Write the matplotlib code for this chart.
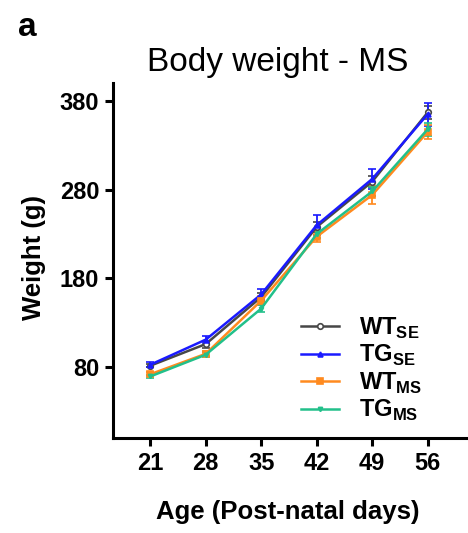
import matplotlib.pyplot as plt
from matplotlib.lines import Line2D

plt.rcParams["font.family"] = ["Liberation Sans", "DejaVu Sans"]
plt.rcParams["mathtext.fontset"] = "custom"
plt.rcParams["mathtext.rm"] = "Liberation Sans:bold"
plt.rcParams["mathtext.bf"] = "Liberation Sans:bold"

days = [21, 28, 35, 42, 49, 56]
wt_se = [81.6, 106, 159, 238, 289, 367]
tg_se = [82.7, 111, 162, 240, 292, 365]
wt_ms = [72, 95, 155, 227, 274, 345]
tg_ms = [69.5, 94, 146, 230, 278, 348]
wt_se_err = [2, 4, 5, 6, 6, 7]
tg_se_err = [3, 4, 6, 11, 11, 13]
wt_ms_err = [2, 3, 5, 6, 10, 8]
tg_ms_err = [2, 3, 4, 5, 5, 7]
labels = [r"WT$_{\mathrm{SE}}$", r"TG$_{\mathrm{SE}}$",
          r"WT$_{\mathrm{MS}}$", r"TG$_{\mathrm{MS}}$"]

fig = plt.figure(figsize=(4.68, 5.33), dpi=100)
ax = fig.add_axes([0.2415, 0.178, 0.757, 0.666])

series = [
    (wt_se, wt_se_err, "#474747", "o", "white", 4),
    (tg_se, tg_se_err, "#1a1aff", "^", "#1a1aff", 3.5),
    (wt_ms, wt_ms_err, "#ff8a1f", "s", "#ff8a1f", 4.5),
    (tg_ms, tg_ms_err, "#22c08a", "v", "#22c08a", 3),
]
handles = []
for (vals, err, col, mk, mfc, ms), lab in zip(series, labels):
    style = dict(color=col, marker=mk, markersize=ms, markerfacecolor=mfc,
                 markeredgecolor=col, markeredgewidth=1.2, linewidth=1.8)
    ax.errorbar(days, vals, yerr=err, elinewidth=1.3, capsize=3,
                capthick=1.3, **style)
    handles.append(Line2D([], [], label=lab, **style))

ax.set_xlim(16.3, 61)
ax.set_ylim(0, 400)
ax.set_xticks(days)
ax.set_yticks([80, 180, 280, 380])
for s in ["top", "right"]:
    ax.spines[s].set_visible(False)
for s in ["left", "bottom"]:
    ax.spines[s].set_linewidth(2.2)
ax.tick_params(width=2.2, length=6, labelsize=17, pad=4)
for t in ax.get_xticklabels() + ax.get_yticklabels():
    t.set_fontweight("bold")

leg = ax.legend(handles=handles, loc="lower right",
                bbox_to_anchor=(0.9, 0.015), frameon=False,
                fontsize=17, handlelength=1.6, handletextpad=0.85,
                labelspacing=0.1, borderaxespad=0)
for t in leg.get_texts():
    t.set_fontweight("bold")

fig.text(278 / 468, 1 - 62 / 533, "Body weight - MS", fontsize=24,
         ha="center", va="center")
fig.text(18 / 468, 1 - 28 / 533, "a", fontsize=24, fontweight="bold",
         ha="left", va="center")
fig.text(288 / 468, 1 - 512 / 533, "Age (Post-natal days)", fontsize=18.5,
         fontweight="bold", ha="center", va="center")
fig.text(34 / 468, 1 - 258 / 533, "Weight (g)", fontsize=18.5,
         fontweight="bold", ha="center", va="center", rotation=90)

fig.savefig("out.png", dpi=100)
